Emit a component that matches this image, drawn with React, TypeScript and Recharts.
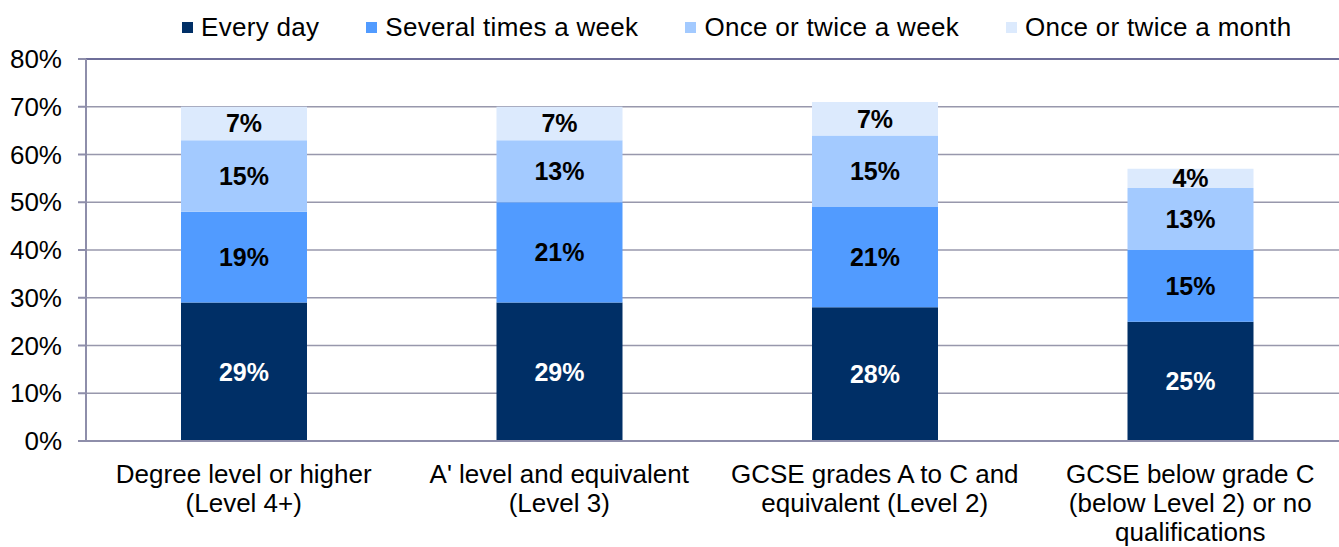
import { BarChart, Bar, XAxis, YAxis, CartesianGrid, Legend, LabelList, ReferenceLine } from 'recharts';

const FONT = '"Liberation Sans", Arial, Helvetica, sans-serif';

const CATEGORIES = [
  'Degree level or higher (Level 4+)',
  "A' level and equivalent (Level 3)",
  'GCSE grades A to C and equivalent (Level 2)',
  'GCSE below grade C (below Level 2) or no qualifications',
];

// how each category name is broken over lines under the axis
const CATEGORY_LINES = [
  ['Degree level or higher', '(Level 4+)'],
  ["A' level and equivalent", '(Level 3)'],
  ['GCSE grades A to C and', 'equivalent (Level 2)'],
  ['GCSE below grade C', '(below Level 2) or no', 'qualifications'],
];

const EVERY_DAY = [29, 29, 28, 25];
const SEVERAL_TIMES_A_WEEK = [19, 21, 21, 15];
const ONCE_OR_TWICE_A_WEEK = [15, 13, 15, 13];
const ONCE_OR_TWICE_A_MONTH = [7, 7, 7, 4];

const Y_TICKS = [0, 10, 20, 30, 40, 50, 60, 70, 80];
const CATEGORY_BOUNDS = [0, 1, 2, 3, 4];

const SERIES = [
  { key: 'everyDay', name: 'Every day', values: EVERY_DAY, color: '#002f66', text: '#ffffff' },
  { key: 'severalWeek', name: 'Several times a week', values: SEVERAL_TIMES_A_WEEK, color: '#519bff', text: '#000000' },
  { key: 'onceWeek', name: 'Once or twice a week', values: ONCE_OR_TWICE_A_WEEK, color: '#a3caff', text: '#000000' },
  { key: 'onceMonth', name: 'Once or twice a month', values: ONCE_OR_TWICE_A_MONTH, color: '#dceafd', text: '#000000' },
];

const data = CATEGORIES.map((name, i) => {
  const row: Record<string, string | number> = { name };
  SERIES.forEach((s) => {
    row[s.key] = s.values[i];
  });
  return row;
});

const AXIS_COLOR = '#8e8eaa';
const GRID_COLOR = '#9898ac';

function CategoryTick({ x, y, payload }: any) {
  const idx = CATEGORIES.indexOf(payload.value);
  const lines = CATEGORY_LINES[idx] || [payload.value];
  return (
    <text x={x} y={y} textAnchor="middle" fontSize={26} fontFamily={FONT} fill="#000">
      {lines.map((line, i) => (
        <tspan key={i} x={x} dy={i === 0 ? 41 : 29}>
          {line}
        </tspan>
      ))}
    </text>
  );
}

function LegendContent() {
  return (
    <div
      style={{
        display: 'flex',
        alignItems: 'center',
        paddingLeft: 182,
        fontFamily: FONT,
        fontSize: 26,
        letterSpacing: 0.3,
        color: '#000',
      }}
    >
      {SERIES.map((s) => (
        <div key={s.key} style={{ display: 'flex', alignItems: 'center', marginRight: 47, whiteSpace: 'nowrap' }}>
          <span style={{ width: 11, height: 11, background: s.color, marginRight: 8, display: 'inline-block' }} />
          <span style={{ lineHeight: '30px' }}>{s.name}</span>
        </div>
      ))}
    </div>
  );
}

export default function App() {
  // the plot runs a little past the right edge, so the chart is clipped
  return (
    <div style={{ position: 'absolute', left: 0, top: 0, width: 1339, height: 547, overflow: 'hidden', background: '#fff' }}>
      <BarChart width={1348} height={547} data={data} margin={{ top: 59, right: 0, bottom: 0, left: 0 }}>
        <CartesianGrid xAxisId="cat" vertical={false} stroke={GRID_COLOR} strokeWidth={1.5} />
        <XAxis
          xAxisId="bounds"
          type="number"
          domain={[0, 4]}
          ticks={CATEGORY_BOUNDS}
          allowDataOverflow
          height={1}
          axisLine={{ stroke: AXIS_COLOR, strokeWidth: 2 }}
          tick={false}
          tickLine={{ stroke: AXIS_COLOR, strokeWidth: 2 }}
          tickSize={8}
        />
        <XAxis
          xAxisId="cat"
          dataKey="name"
          height={105}
          axisLine={false}
          tickLine={false}
          tickSize={0}
          tickMargin={0}
          interval={0}
          tick={<CategoryTick />}
        />
        <YAxis
          width={86}
          domain={[0, 80]}
          ticks={Y_TICKS}
          tickFormatter={(v) => `${v}%`}
          axisLine={{ stroke: AXIS_COLOR, strokeWidth: 2 }}
          tickLine={{ stroke: AXIS_COLOR, strokeWidth: 2 }}
          tickSize={8}
          tickMargin={16}
          tick={{ fontSize: 26, fill: '#000', fontFamily: FONT }}
        />
        <ReferenceLine xAxisId="cat" y={80} stroke="#6e6e99" strokeWidth={2} />
        <Legend
          verticalAlign="middle"
          align="center"
          layout="horizontal"
          wrapperStyle={{ top: 12, left: 0, width: 1339 }}
          content={<LegendContent />}
        />
        {SERIES.map((s) => (
          <Bar
            key={s.key}
            xAxisId="cat"
            dataKey={s.key}
            name={s.name}
            stackId="a"
            fill={s.color}
            barSize={126}
            isAnimationActive={false}
          >
            <LabelList
              dataKey={s.key}
              position="center"
              formatter={(v: any) => `${v}%`}
              fill={s.text}
              fontSize={25}
              fontWeight="bold"
              fontFamily={FONT}
            />
          </Bar>
        ))}
      </BarChart>
    </div>
  );
}
